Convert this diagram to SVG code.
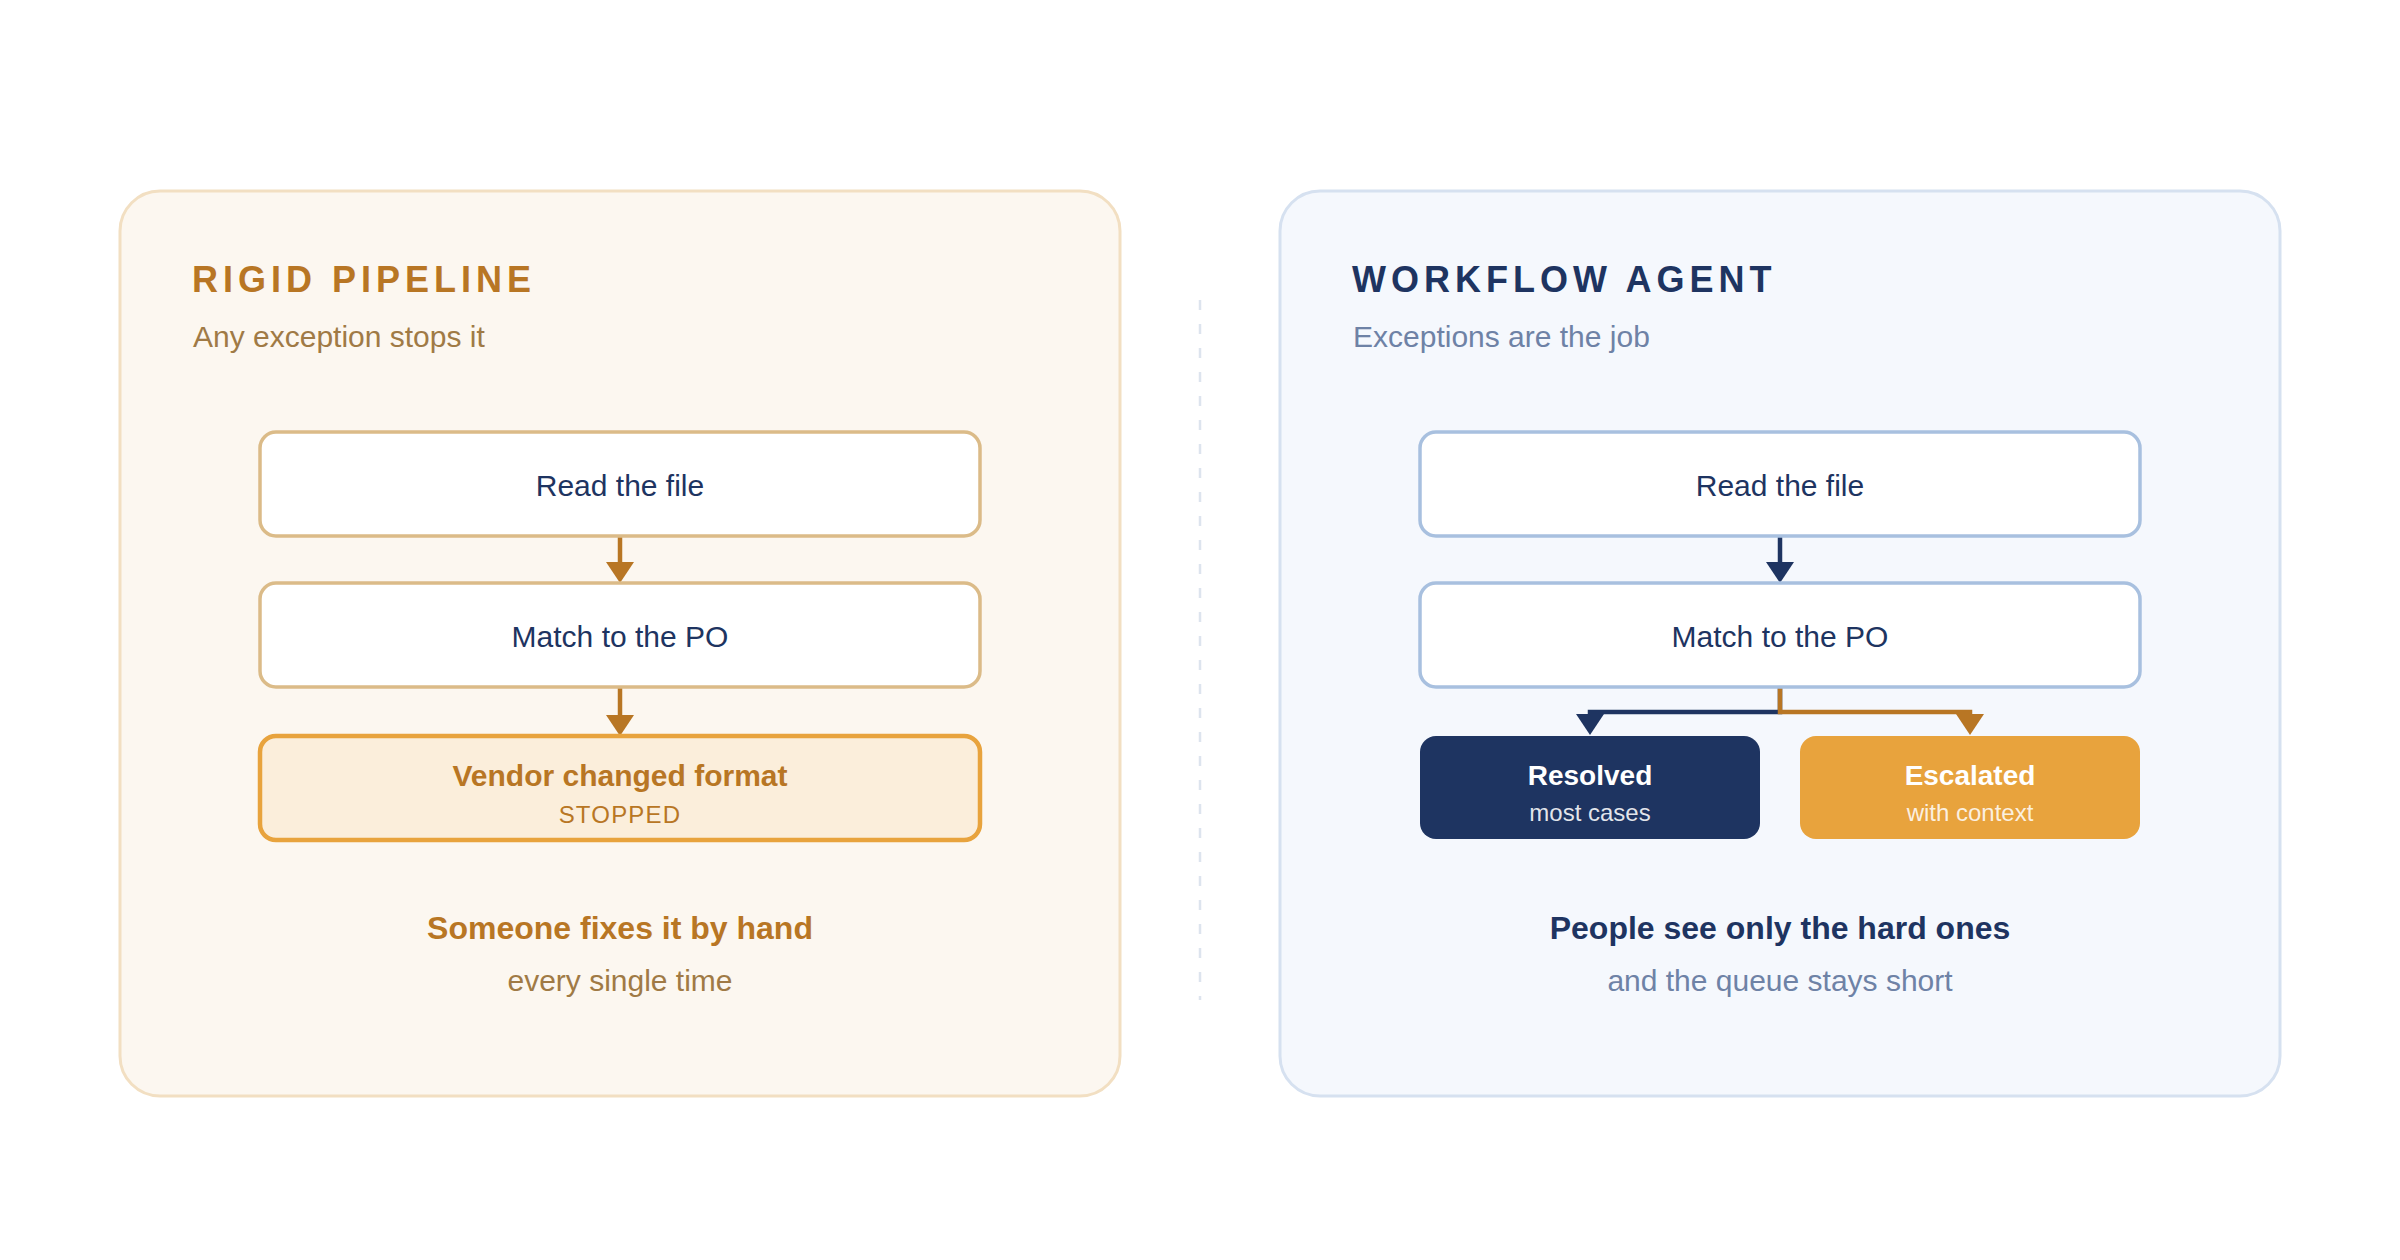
<svg xmlns="http://www.w3.org/2000/svg" width="2400" height="1260" viewBox="0 0 2400 1260">
  <defs>
    <style>
      text { font-family: "Liberation Sans", Arial, Helvetica, sans-serif; }
      .title { font-size: 36px; font-weight: bold; letter-spacing: 5px; }
      .sub { font-size: 30px; }
      .step { font-size: 30px; fill: #1e3461; text-anchor: middle; }
      .lbox { fill: #ffffff; stroke: #dbbb88; stroke-width: 3.5; }
      .rbox { fill: #ffffff; stroke: #a8c0df; stroke-width: 3.5; }
      .c { text-anchor: middle; }
      .b { font-weight: bold; }
      .conn { fill: none; stroke-width: 4.5; stroke-linejoin: miter; }
    </style>
    <marker id="ahB" markerUnits="userSpaceOnUse" markerWidth="21" markerHeight="28" viewBox="0 0 21 28" refX="0" refY="14" orient="auto">
      <path d="M0,0 L21,14 L0,28 Z" fill="#b87624"/>
    </marker>
    <marker id="ahN" markerUnits="userSpaceOnUse" markerWidth="21" markerHeight="28" viewBox="0 0 21 28" refX="0" refY="14" orient="auto">
      <path d="M0,0 L21,14 L0,28 Z" fill="#1e3461"/>
    </marker>
  </defs>

  <rect x="0" y="0" width="2400" height="1260" fill="#ffffff"/>

  <g id="panel-left">
    <rect x="120" y="191" width="1000" height="905" rx="40" fill="#fcf7f0" stroke="#f2dfc2" stroke-width="3"/>
    <text x="192" y="292" class="title" fill="#b87624">RIGID PIPELINE</text>
    <text x="193" y="347" class="sub" fill="#a07a45">Any exception stops it</text>
  </g>

  <g id="panel-right">
    <rect x="1280" y="191" width="1000" height="905" rx="40" fill="#f5f8fd" stroke="#d6e1f0" stroke-width="3"/>
    <text x="1352" y="292" class="title" fill="#1e3461">WORKFLOW AGENT</text>
    <text x="1353" y="347" class="sub" fill="#6e82a6">Exceptions are the job</text>
  </g>

  <line id="divider" x1="1200" y1="300" x2="1200" y2="1000" stroke="#dde4ee" stroke-width="2.5" stroke-dasharray="10 14"/>

  <g id="connectors">
    <path class="conn" d="M620 537 V562" stroke="#b87624" marker-end="url(#ahB)"/>
    <path class="conn" d="M620 688 V715" stroke="#b87624" marker-end="url(#ahB)"/>
    <path class="conn" d="M1780 537 V562" stroke="#1e3461" marker-end="url(#ahN)"/>
    <path class="conn" d="M1780 688 V712 H1590 V714" stroke="#1e3461" marker-end="url(#ahN)"/>
    <path class="conn" d="M1780 688 V712 H1970 V714" stroke="#b87624" marker-end="url(#ahB)"/>
  </g>

  <g id="l-read">
    <rect x="260" y="432" width="720" height="104" rx="16" class="lbox"/>
    <text x="620" y="496" class="step">Read the file</text>
  </g>
  <g id="l-match">
    <rect x="260" y="583" width="720" height="104" rx="16" class="lbox"/>
    <text x="620" y="647" class="step">Match to the PO</text>
  </g>
  <g id="l-vendor">
    <rect x="260" y="736" width="720" height="104" rx="16" fill="#fbeedb" stroke="#e8a33d" stroke-width="4.5"/>
    <text x="620" y="786" class="c b" font-size="30" fill="#b87624">Vendor changed format</text>
    <text x="620" y="823" class="c" font-size="24" letter-spacing="1.2" fill="#b87624">STOPPED</text>
  </g>
  <g id="l-footer">
    <text x="620" y="939" class="c b" font-size="32" fill="#b87624">Someone fixes it by hand</text>
    <text x="620" y="991" class="c" font-size="30" fill="#a07a45">every single time</text>
  </g>

  <g id="r-read">
    <rect x="1420" y="432" width="720" height="104" rx="16" class="rbox"/>
    <text x="1780" y="496" class="step">Read the file</text>
  </g>
  <g id="r-match">
    <rect x="1420" y="583" width="720" height="104" rx="16" class="rbox"/>
    <text x="1780" y="647" class="step">Match to the PO</text>
  </g>
  <g id="r-resolved">
    <rect x="1420" y="736" width="340" height="103" rx="16" fill="#1e3461"/>
    <text x="1590" y="785" class="c b" font-size="28" fill="#ffffff">Resolved</text>
    <text x="1590" y="821" class="c" font-size="24" fill="#ffffff" fill-opacity="0.88">most cases</text>
  </g>
  <g id="r-escalated">
    <rect x="1800" y="736" width="340" height="103" rx="16" fill="#e8a33d"/>
    <text x="1970" y="785" class="c b" font-size="28" fill="#ffffff">Escalated</text>
    <text x="1970" y="821" class="c" font-size="24" fill="#ffffff" fill-opacity="0.85">with context</text>
  </g>
  <g id="r-footer">
    <text x="1780" y="939" class="c b" font-size="32" fill="#1e3461">People see only the hard ones</text>
    <text x="1780" y="991" class="c" font-size="30" fill="#6e82a6">and the queue stays short</text>
  </g>
</svg>
